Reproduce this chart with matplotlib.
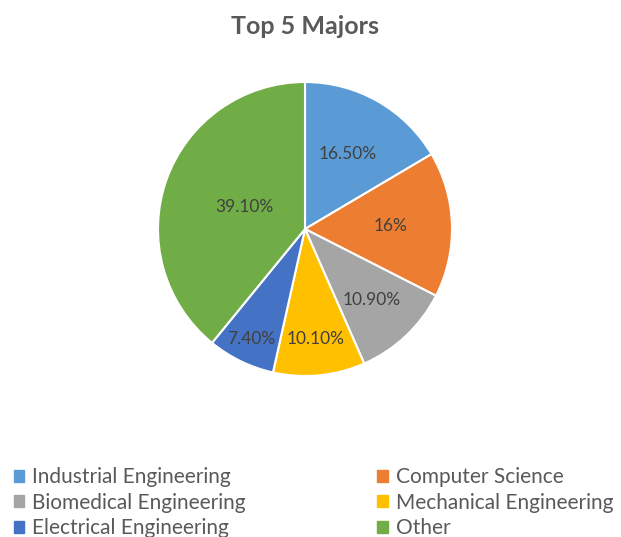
import matplotlib
matplotlib.use("Agg")
import matplotlib.pyplot as plt
import matplotlib.patches as mpatches
import numpy as np

plt.rcParams['font.family'] = ['Lato', 'DejaVu Sans']

labels = ["Industrial Engineering", "Computer Science", "Biomedical Engineering",
          "Mechanical Engineering", "Electrical Engineering", "Other"]
values = [16.5, 16.0, 10.9, 10.1, 7.4, 39.1]
value_text = ["16.50%", "16%", "10.90%", "10.10%", "7.40%", "39.10%"]
colors = ["#5B9BD5", "#ED7D31", "#A5A5A5", "#FFC000", "#4472C4", "#70AD47"]
label_radius = [0.59, 0.58, 0.66, 0.75, 0.83, 0.44]

fig = plt.figure(figsize=(6.21, 5.37), dpi=100)
W, H = 621, 537
cx, cy, r = 305, 229, 147
ax = fig.add_axes([(cx - r) / W, (H - cy - r) / H, 2 * r / W, 2 * r / H])
wedges, _ = ax.pie(values, colors=colors, startangle=90, counterclock=False,
                   radius=1.0, wedgeprops=dict(edgecolor="white", linewidth=1.5))
ax.set_xlim(-1, 1)
ax.set_ylim(-1, 1)
ax.set_aspect("equal")
ax.axis("off")

for w, t, lr in zip(wedges, value_text, label_radius):
    ang = np.deg2rad((w.theta1 + w.theta2) / 2)
    ax.text(lr * np.cos(ang), lr * np.sin(ang), t, ha="center", va="center",
            fontsize=12.5, color="#404040")

fig.text(cx / W, 1 - 26 / H, "Top 5 Majors", ha="center", va="center",
         fontsize=18, fontweight="bold", color="#595959")

order = [0, 2, 4, 1, 3, 5]
handles = [mpatches.Patch(color=colors[i], label=labels[i]) for i in order]
leg = fig.legend(handles=handles, ncol=2, loc="upper left",
                 bbox_to_anchor=(14 / W, 1 - 467 / H), frameon=False,
                 fontsize=15, handlelength=0.5, handleheight=0.5,
                 handletextpad=0.38, labelspacing=0.27, columnspacing=6.3,
                 borderaxespad=0, borderpad=0)
for txt in leg.get_texts():
    txt.set_color("#595959")

fig.savefig("out.png", dpi=100, facecolor="white")
